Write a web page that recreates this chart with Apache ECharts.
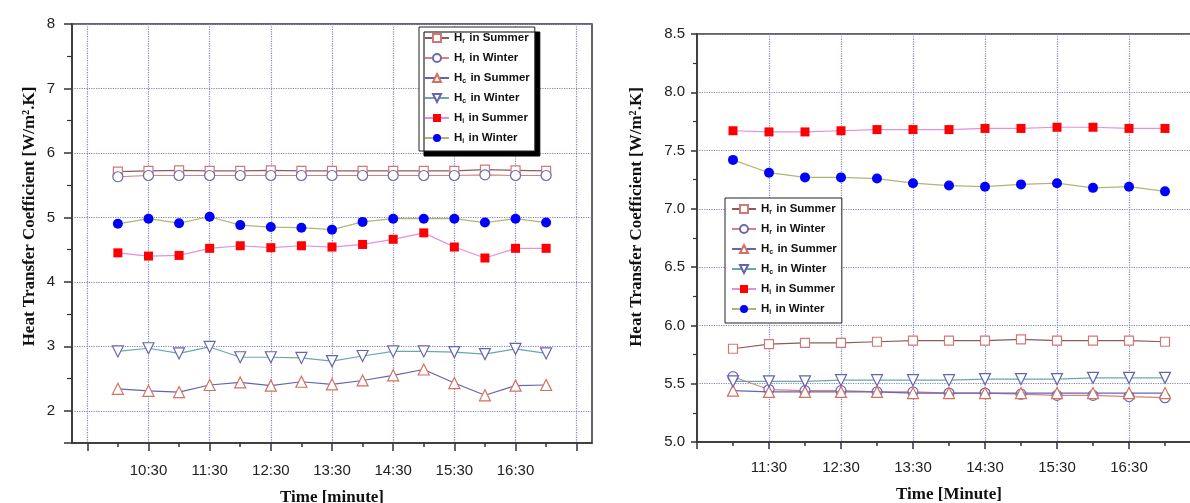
<!DOCTYPE html>
<html>
<head>
<meta charset="utf-8">
<script src="https://cdn.jsdelivr.net/npm/echarts@6/dist/echarts.min.js"></script>
<style>
html,body{margin:0;padding:0;background:#fff;}
#c{width:1190px;height:503px;}
</style>
</head>
<body>
<div id="c"></div>
<script>
// ---------- data ----------
const seriesNames = ['H_r in Summer','H_r in Winter','H_c in Summer','H_c in Winter','H_i in Summer','H_i in Winter'];

const leftTimes = ['10:00','10:30','11:00','11:30','12:00','12:30','13:00','13:30','14:00','14:30','15:00','15:30','16:00','16:30','17:00'];
const leftHrSummer = [5.71,5.72,5.73,5.72,5.72,5.73,5.72,5.72,5.72,5.72,5.72,5.72,5.74,5.73,5.72];
const leftHrWinter = [5.63,5.65,5.65,5.65,5.65,5.65,5.65,5.65,5.65,5.65,5.65,5.65,5.66,5.65,5.65];
const leftHcSummer = [2.34,2.31,2.29,2.40,2.44,2.39,2.45,2.41,2.47,2.55,2.64,2.43,2.24,2.39,2.40];
const leftHcWinter = [2.92,2.97,2.89,2.99,2.83,2.83,2.82,2.77,2.85,2.92,2.92,2.91,2.88,2.96,2.89];
const leftHiSummer = [4.45,4.40,4.41,4.52,4.56,4.53,4.56,4.54,4.58,4.66,4.76,4.54,4.37,4.52,4.52];
const leftHiWinter = [4.90,4.98,4.91,5.01,4.88,4.85,4.84,4.81,4.93,4.98,4.98,4.98,4.92,4.98,4.92];

const rightTimes = ['11:00','11:30','12:00','12:30','13:00','13:30','14:00','14:30','15:00','15:30','16:00','16:30','17:00'];
const rightHrSummer = [5.80,5.84,5.85,5.85,5.86,5.87,5.87,5.87,5.88,5.87,5.87,5.87,5.86];
const rightHrWinter = [5.56,5.45,5.44,5.44,5.43,5.43,5.42,5.42,5.41,5.40,5.40,5.39,5.38];
const rightHcSummer = [5.44,5.43,5.43,5.43,5.43,5.42,5.42,5.42,5.42,5.42,5.42,5.42,5.42];
const rightHcWinter = [5.52,5.52,5.52,5.53,5.53,5.53,5.53,5.54,5.54,5.54,5.55,5.55,5.55];
const rightHiSummer = [7.67,7.66,7.66,7.67,7.68,7.68,7.68,7.69,7.69,7.70,7.70,7.69,7.69];
const rightHiWinter = [7.42,7.31,7.27,7.27,7.26,7.22,7.20,7.19,7.21,7.22,7.18,7.19,7.15];

const leftXTickLabels = ['10:30','11:30','12:30','13:30','14:30','15:30','16:30'];
const rightXTickLabels = ['11:30','12:30','13:30','14:30','15:30','16:30'];

// ---------- helpers ----------
const toMin = s => { const p = s.split(':'); return (+p[0]) * 60 + (+p[1]); };
const toLabel = m => Math.floor(m / 60) + ':' + String(m % 60).padStart(2, '0');
const range = (a, b, st) => { const r = []; for (let v = a; v <= b; v += st) r.push(v); return r; };

const LMIN = toMin('9:15'), LMAX = toMin('17:45');
const RMIN = toMin('10:30'), RMAX = toMin('17:45');
const leftCats = range(LMIN, LMAX, 15).map(toLabel);
const rightCats = range(RMIN, RMAX, 15).map(toLabel);

const AX = '#333';
const GRIDC = '#8484c4';
const tickFont = { fontFamily: 'Liberation Sans, Arial, sans-serif', fontSize: 15, color: '#222' };
const nameFont = { fontFamily: 'Liberation Serif, Times New Roman, serif', fontSize: 17, fontWeight: 'bold', color: '#111' };

const styles = [
  { line: '#8c5c5c', symbol: 'rect', size: 9, fill: '#fff', border: '#d07878' },
  { line: '#d88080', symbol: 'circle', size: 10, fill: '#fff', border: '#6a6aae' },
  { line: '#6464b4', symbol: 'triangle', size: 11, fill: '#fff', border: '#d4705e' },
  { line: '#6aa8a8', symbol: 'path://M0,0L10,0L5,9Z', size: 11, fill: '#fff', border: '#6464b0' },
  { line: '#e28ee2', symbol: 'rect', size: 9, fill: '#ff0000', border: '#ff0000' },
  { line: '#b4b474', symbol: 'circle', size: 10, fill: '#0000ff', border: '#0000ff' }
];

function mkSeries(times, arrays, xIdx, yIdx) {
  return arrays.map((arr, k) => ({
    name: seriesNames[k],
    type: 'line',
    xAxisIndex: xIdx, yAxisIndex: yIdx,
    data: times.map((t, i) => [toMin(t), arr[i]]),
    symbol: styles[k].symbol,
    symbolSize: styles[k].size,
    showAllSymbol: true,
    lineStyle: { color: styles[k].line, width: 1.2 },
    itemStyle: { color: styles[k].fill, borderColor: styles[k].border, borderWidth: styles[k].fill === '#fff' ? 1.2 : 0 },
    emphasis: { disabled: true },
    z: 3 + k
  }));
}

function dataX(grid, min, max) {
  return { type: 'value', gridIndex: grid, min: min, max: max, show: false };
}
function catAxis(grid, cats, isMajor, isMinor, labels, name, nameStyle, showLine, tickLen, labelMargin, nameGap) {
  return {
    type: 'category', gridIndex: grid, position: 'bottom', data: cats, boundaryGap: false,
    axisLine: { show: showLine, lineStyle: { color: AX, width: 1.5 } },
    axisTick: { show: true, length: tickLen, interval: (i, v) => isMajor ? isMajor(v) : isMinor(v), lineStyle: { color: AX, width: 1.5 } },
    axisLabel: labels ? { show: true, interval: (i, v) => labels.indexOf(v) >= 0, margin: labelMargin, ...tickFont } : { show: false },
    splitLine: isMajor && labels ? { show: true, interval: (i, v) => isMajor(v), lineStyle: { color: GRIDC, type: 'dotted', width: 1.2 } } : { show: false },
    name: name || '', nameLocation: 'middle', nameGap: nameGap || 42, nameTextStyle: nameStyle || {}
  };
}

const leftMajor = v => (toMin(v) - toMin('9:30')) % 60 === 0;
const leftMinor = v => (toMin(v) - toMin('10:00')) % 60 === 0;
const rightMajor = v => (toMin(v) - toMin('10:30')) % 60 === 0;
const rightMinor = v => (toMin(v) - toMin('11:00')) % 60 === 0;

function legendFmt(name) {
  const m = name.match(/^H_(\w)(.*)$/);
  return '{m|H}{s|' + m[1] + '}{m|' + m[2] + '}';
}
const legendRich = {
  m: { fontFamily: 'Liberation Sans, Arial, sans-serif', fontSize: 11.5, fontWeight: 'bold', color: '#111', lineHeight: 14 },
  s: { fontFamily: 'Liberation Sans, Arial, sans-serif', fontSize: 7, fontWeight: 'bold', color: '#111', lineHeight: 14, verticalAlign: 'bottom', padding: [0, 1, 0, 0] }
};

const chart = echarts.init(document.getElementById('c'));
chart.setOption({
  animation: false,
  backgroundColor: '#fff',
  grid: [
    { left: 72, top: 24, width: 520, height: 419, show: true, borderColor: AX, borderWidth: 1.5, containLabel: false, outerBoundsMode: 'none' },
    { left: 697, top: 34, width: 522, height: 408, show: true, borderColor: AX, borderWidth: 1.5, containLabel: false, outerBoundsMode: 'none' }
  ],
  xAxis: [
    dataX(0, LMIN, LMAX),
    catAxis(0, leftCats, leftMajor, null, leftXTickLabels, 'Time [minute]', { ...nameFont, fontSize: 17 }, true, 8, 20, 46),
    catAxis(0, leftCats, null, leftMinor, null, '', null, false, 4, 0),
    dataX(1, RMIN, RMAX),
    catAxis(1, rightCats, rightMajor, null, rightXTickLabels, 'Time [Minute]', { ...nameFont, fontSize: 17, padding: [0, 18, 0, 0] }, true, 7, 18, 44),
    catAxis(1, rightCats, null, rightMinor, null, '', null, false, 4, 0)
  ],
  yAxis: [
    {
      type: 'value', gridIndex: 0, min: 1.5, max: 8,
      axisLine: { show: true, lineStyle: { color: AX, width: 1.5 } },
      axisTick: { show: true, length: 8, lineStyle: { color: AX, width: 1.5 } },
      minorTick: { show: true, splitNumber: 2, length: 5, lineStyle: { color: AX, width: 1.2 } },
      axisLabel: { margin: 17, ...tickFont, formatter: v => (Math.abs(v - Math.round(v)) < 1e-9 ? String(Math.round(v)) : '') },
      splitLine: { show: true, lineStyle: { color: GRIDC, type: 'dotted', width: 1.2 } },
      name: 'Heat Transfer Coefficient [W/m².K]', nameLocation: 'middle', nameGap: 34,
      nameTextStyle: { ...nameFont, padding: [0, 0, 0, 34] }
    },
    {
      type: 'value', gridIndex: 1, min: 5.0, max: 8.5, interval: 0.5,
      axisLine: { show: true, lineStyle: { color: AX, width: 1.5 } },
      axisTick: { show: true, length: 6, lineStyle: { color: AX, width: 1.5 } },
      minorTick: { show: true, splitNumber: 2, length: 4, lineStyle: { color: AX, width: 1.2 } },
      axisLabel: { margin: 12, ...tickFont, formatter: v => v.toFixed(1) },
      splitLine: { show: true, lineStyle: { color: GRIDC, type: 'dotted', width: 1.2 } },
      name: 'Heat Transfer Coefficient [W/m².K]', nameLocation: 'middle', nameGap: 52,
      nameTextStyle: { ...nameFont, padding: [0, 0, 0, 42] }
    }
  ],
  legend: [
    {
      data: seriesNames, orient: 'vertical', left: 419, top: 27,
      itemWidth: 24, itemHeight: 10, itemGap: 7, padding: [5, 5, 6, 5],
      backgroundColor: '#fff', borderColor: '#222', borderWidth: 1,
      shadowColor: '#000', shadowBlur: 0, shadowOffsetX: 5, shadowOffsetY: 5,
      formatter: legendFmt, textStyle: { rich: legendRich }, selectedMode: false
    },
    {
      data: seriesNames, orient: 'vertical', left: 725, top: 198,
      itemWidth: 24, itemHeight: 10, itemGap: 7, padding: [5, 5, 7, 6],
      backgroundColor: '#fff', borderColor: '#222', borderWidth: 1,
      formatter: legendFmt, textStyle: { rich: legendRich }, selectedMode: false
    }
  ],
  series: [
    ...mkSeries(leftTimes, [leftHrSummer, leftHrWinter, leftHcSummer, leftHcWinter, leftHiSummer, leftHiWinter], 0, 0),
    ...mkSeries(rightTimes, [rightHrSummer, rightHrWinter, rightHcSummer, rightHcWinter, rightHiSummer, rightHiWinter], 3, 1)
  ]
});
</script>
</body>
</html>
